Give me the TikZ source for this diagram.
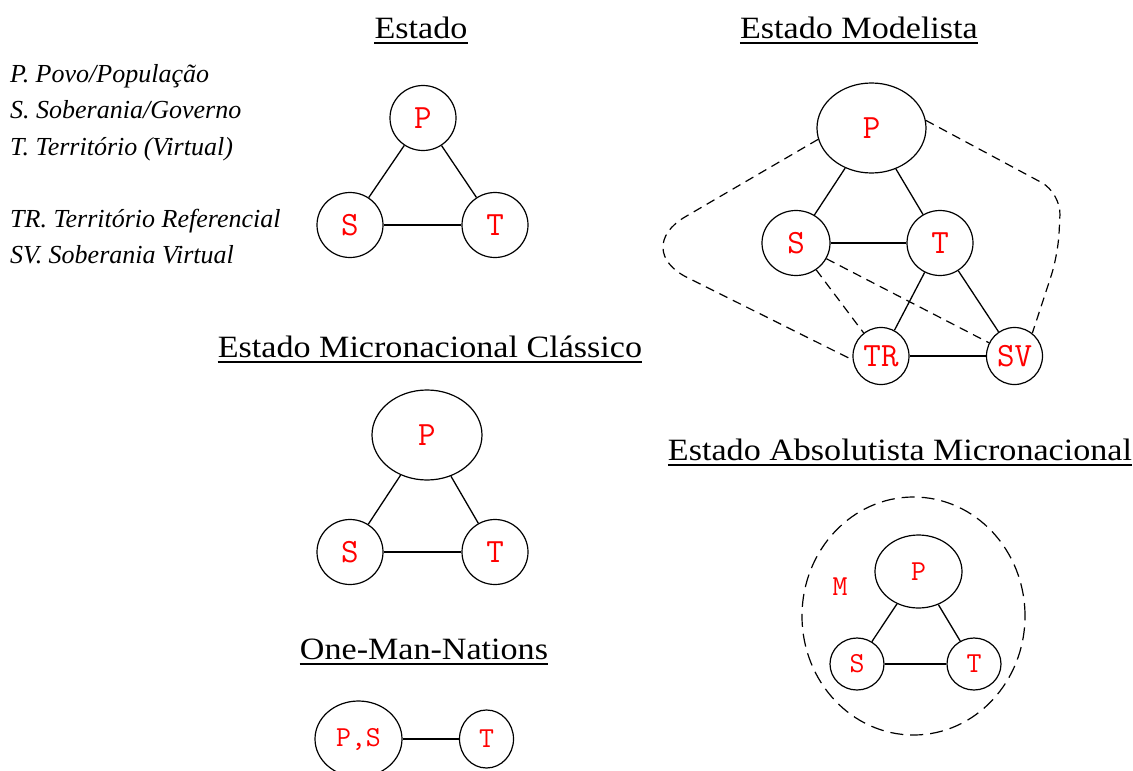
\documentclass[tikz,border=0pt]{standalone}
\usepackage{fontspec}
\setmainfont{Liberation Serif}
\newfontfamily\titlefont[FakeStretch=1.1]{Liberation Serif}
\usetikzlibrary{shapes.geometric}

\tikzset{
  ttl/.style={anchor=base, inner sep=0pt, font=\titlefont\fontsize{31}{36}\selectfont},
  uline/.style={line width=1.8pt},
  leg/.style={anchor=base west, inner sep=0pt, font=\itshape\fontsize{26}{30}\selectfont},
  st/.style={draw, ellipse, line width=1.2pt, inner sep=0pt, text=red,
             font=\ttfamily\fontsize{34}{36}\selectfont},
  stsm/.style={st, font=\ttfamily\fontsize{29}{32}\selectfont},
  link/.style={line width=1.3pt},
  dlink/.style={line width=1.2pt, dash pattern=on 9pt off 6pt},
  dring/.style={draw, ellipse, line width=1.2pt, dash pattern=on 13pt off 7pt, inner sep=0pt},
}

\begin{document}
\begin{tikzpicture}[x=1pt, y=-1pt]
\useasboundingbox (0,0) rectangle (1133,771);

% ---------- titles ----------
\node[ttl] (tE) at (421,38) {Estado};
\node[ttl] (tM) at (859,38) {Estado Modelista};
\node[ttl] (tC) at (430,357) {Estado Micronacional Clássico};
\node[ttl] (tO) at (424,659) {One-Man-Nations};
\node[ttl] (tA) at (900,460) {Estado Absolutista Micronacional};
\foreach \t in {tE,tM,tC,tO,tA}
  \draw[uline] ([yshift=-5pt]\t.base west) -- ([yshift=-5pt]\t.base east);

% ---------- legend ----------
\node[leg] (l1) at (10,82)  {P. Povo/População};
\node[leg] (l2) at (10,118) {S. Soberania/Governo};
\node[leg] (l3) at (10,155) {T. Território (Virtual)};
\node[leg] (l4) at (10,227) {TR. Território Referencial};
\node[leg] (l5) at (10,263) {SV. Soberania Virtual};

% ---------- Estado ----------
\node[st, minimum width=66pt, minimum height=65pt] (eP) at (423,118) {P};
\node[st, minimum width=66pt, minimum height=65pt] (eS) at (350,225) {S};
\node[st, minimum width=66pt, minimum height=65pt] (eT) at (495,225) {T};
\draw[link] (eP) -- (eS);
\draw[link] (eP) -- (eT);
\draw[link] (eS) -- (eT);

% ---------- Estado Modelista ----------
\node[st, minimum width=109pt, minimum height=90pt] (mP) at (871.5,128) {P};
\node[st, minimum width=68pt, minimum height=65pt] (mS) at (796,243) {S};
\node[st, minimum width=66pt, minimum height=65pt] (mT) at (940,243) {T};
\node[st, minimum width=56pt, minimum height=57pt] (mTR) at (881,356) {TR};
\node[st, minimum width=56pt, minimum height=57pt] (mSV) at (1014.5,356) {SV};
\draw[link] (mP) -- (mS);
\draw[link] (mP) -- (mT);
\draw[link] (mS) -- (mT);
\draw[link] (mT) -- (mTR);
\draw[link] (mT) -- (mSV);
\draw[link] (mTR) -- (mSV);
\draw[dlink] (mS) -- (mTR);
\draw[dlink] (mS) -- (mSV);
\coordinate (mL) at (630,249);
\coordinate (mR1) at (1061,193);
\coordinate (mR2) at (1058,255);
\draw[dlink, rounded corners=64pt] (mP.192) -- (mL) -- (mTR.188);
\draw[dlink, rounded corners=22pt] (mP.8) -- (mR1) -- (mR2) -- (mSV.52);

% ---------- Estado Micronacional Clássico ----------
\node[st, minimum width=110pt, minimum height=90pt] (cP) at (427,435) {P};
\node[st, minimum width=66pt, minimum height=65pt] (cS) at (350,552) {S};
\node[st, minimum width=66pt, minimum height=65pt] (cT) at (495,552) {T};
\draw[link] (cP) -- (cS);
\draw[link] (cP) -- (cT);
\draw[link] (cS) -- (cT);

% ---------- One-Man-Nations ----------
\node[stsm, minimum width=87pt, minimum height=76pt] (oPS) at (358.5,739) {P,S};
\node[stsm, minimum width=54pt, minimum height=58pt] (oT) at (486.5,739) {T};
\draw[link] (oPS) -- (oT);

% ---------- Estado Absolutista Micronacional ----------
\node[dring, minimum width=223pt, minimum height=238pt] (aM) at (913.5,616) {};
\node[stsm, minimum width=87pt, minimum height=73pt] (aP) at (918.5,571.5) {P};
\node[stsm, minimum width=54pt, minimum height=52pt] (aS) at (857,664) {S};
\node[stsm, minimum width=54pt, minimum height=52pt] (aT) at (974,664) {T};
\node[text=red, inner sep=0pt, font=\ttfamily\fontsize{29}{32}\selectfont] (aML) at (840,587) {M};
\draw[link] (aP) -- (aS);
\draw[link] (aP) -- (aT);
\draw[link] (aS) -- (aT);
\end{tikzpicture}
\end{document}
